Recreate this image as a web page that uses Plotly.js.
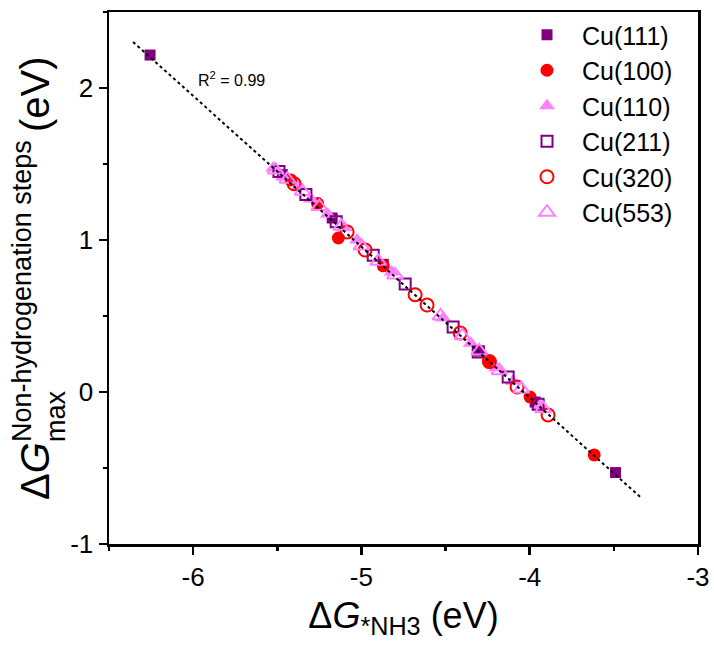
<!DOCTYPE html>
<html>
<head>
<meta charset="utf-8">
<script src="https://cdn.plot.ly/plotly-3.0.1.min.js"></script>
<style>html,body{margin:0;padding:0;background:#fff;}#chart{width:714px;height:648px;}</style>
</head>
<body>
<div id="chart"></div>
<script>
// ---- data ----
const seriesNames = ["Cu(111)", "Cu(100)", "Cu(110)", "Cu(211)", "Cu(320)", "Cu(553)"];

const cu111X = [-6.256, -5.47, -5.174, -4.87, -4.30, -3.968, -3.49];
const cu111Y = [2.217, 1.43, 1.145, 0.84, 0.27, -0.066, -0.53];

const cu100X = [-5.42, -5.26, -5.137, -4.87, -4.235, -3.998, -3.617];
const cu100Y = [1.395, 1.24, 1.013, 0.83, 0.197, -0.033, -0.414];

const cu110X = [-5.524, -5.465, -5.376, -5.30, -5.20, -5.10, -5.026, -4.82, -4.515, -4.35, -4.20, -4.10, -3.94];
const cu110Y = [1.474, 1.414, 1.35, 1.27, 1.17, 1.08, 1.0, 0.79, 0.487, 0.32, 0.16, 0.07, -0.09];

const cu211X = [-5.49, -5.33, -5.15, -4.93, -4.74, -4.455, -4.306, -4.128, -3.95];
const cu211Y = [1.45, 1.30, 1.12, 0.90, 0.71, 0.428, 0.263, 0.099, -0.08];

const cu320X = [-5.40, -5.085, -4.978, -4.681, -4.61, -4.413, -4.24, -4.075, -3.891];
const cu320Y = [1.37, 1.053, 0.934, 0.64, 0.572, 0.388, 0.20, 0.033, -0.151];

const cu553X = [-5.51, -5.44, -5.35, -5.25, -5.12, -5.00, -4.90, -4.80, -4.53, -4.40, -4.30, -4.18, -4.05, -3.92];
const cu553Y = [1.46, 1.40, 1.32, 1.22, 1.09, 0.96, 0.86, 0.77, 0.50, 0.37, 0.27, 0.14, 0.02, -0.11];

// linear fit
const fitSlope = -0.993;
const fitIntercept = -4.01;
const fitXRange = [-6.357, -3.344];
const r2Text = "R<sup>2</sup> = 0.99";
const r2Pos = [-5.77, 2.06];

const xTickVals = [-6, -5, -4, -3];
const xTickText = ["-6", "-5", "-4", "-3"];
const yTickVals = [-1, 0, 1, 2];
const yTickText = ["-1", "0", "1", "2"];

// ---- styles ----
const PURPLE = "#800080", RED = "#FF0000", PINK = "#FF80FF";
const FONT = "Liberation Sans, Arial, sans-serif";

function sc(name, x, y, symbol, color, size, open) {
  const m = {symbol: symbol, size: size, color: color};
  if (open) m.line = {color: color, width: 2};
  else m.line = {width: 0};
  return {type: "scatter", mode: "markers", name: name, x: x, y: y, marker: m, cliponaxis: false};
}

const traces = [
  sc(seriesNames[0], cu111X, cu111Y, "square", PURPLE, 11, false),
  sc(seriesNames[1], cu100X, cu100Y, "circle", RED, 13, false),
  sc(seriesNames[2], cu110X, cu110Y, "triangle-up", PINK, 14, false),
  sc(seriesNames[3], cu211X, cu211Y, "square-open", PURPLE, 11, true),
  sc(seriesNames[4], cu320X, cu320Y, "circle-open", RED, 13, true),
  sc(seriesNames[5], cu553X, cu553Y, "triangle-up-open", PINK, 14, true),
  {
    type: "scatter", mode: "lines", showlegend: false, hoverinfo: "skip",
    x: fitXRange, y: fitXRange.map(v => fitSlope * v + fitIntercept),
    line: {color: "#000", width: 2, dash: "3px,3px"}
  }
];

// plot area pixel geometry
const L = 109, R = 16, T = 12, B = 104, W = 714, H = 648;
const ph = H - T - B;
const py = p => (H - B - p) / ph;   // pixel y -> paper y
const pw = W - L - R;
const px = p => (p - L) / pw;       // pixel x -> paper x

const yTitleFont = 40, ySubFont = 27;
const annotations = [
  {text: r2Text, x: r2Pos[0], y: r2Pos[1], xref: "x", yref: "y", showarrow: false,
   font: {family: FONT, size: 16, color: "#000"}},
  {text: "Δ<i>G</i>", xref: "paper", yref: "paper", x: px(35), y: py(502), xanchor: "center", yanchor: "bottom",
   textangle: -90, showarrow: false, font: {family: FONT, size: yTitleFont, color: "#000"}},
  {text: "max", xref: "paper", yref: "paper", x: px(56), y: py(444), xanchor: "center", yanchor: "bottom",
   textangle: -90, showarrow: false, font: {family: FONT, size: ySubFont, color: "#000"}},
  {text: "Non-hydrogenation steps", xref: "paper", yref: "paper", x: px(22), y: py(444), xanchor: "center", yanchor: "bottom",
   textangle: -90, showarrow: false, font: {family: FONT, size: ySubFont, color: "#000"}},
  {text: "(eV)", xref: "paper", yref: "paper", x: px(35), y: py(134), xanchor: "center", yanchor: "bottom",
   textangle: -90, showarrow: false, font: {family: FONT, size: yTitleFont, color: "#000"}}
];

const axisCommon = {
  showline: true, linewidth: 2.5, linecolor: "#000", mirror: true,
  showgrid: false, zeroline: false,
  ticks: "outside", ticklen: 8, tickwidth: 2.5, tickcolor: "#000",
  tickmode: "array",
  tickfont: {family: FONT, size: 26, color: "#000"},
  minor: {tickmode: "linear", dtick: 0.5, ticks: "outside", ticklen: 4, tickwidth: 2.5, tickcolor: "#000", showgrid: false}
};

const layout = {
  width: W, height: H,
  margin: {l: L, r: R, t: T, b: B, pad: 0},
  paper_bgcolor: "#fff", plot_bgcolor: "#fff",
  font: {family: FONT, color: "#000"},
  showlegend: true,
  legend: {
    x: px(512), y: py(12), xanchor: "left", yanchor: "top",
    font: {family: FONT, size: 25, color: "#000"},
    bgcolor: "rgba(0,0,0,0)", borderwidth: 0, itemwidth: 60
  },
  xaxis: Object.assign({}, axisCommon, {
    range: [-6.5, -3], tickvals: xTickVals, ticktext: xTickText,
    minor: Object.assign({}, axisCommon.minor, {tick0: -6}),
    title: {text: "Δ<i>G</i><sub>*NH3</sub> (eV)", font: {family: FONT, size: 36, color: "#000"}, standoff: 12}
  }),
  yaxis: Object.assign({}, axisCommon, {
    range: [-1, 2.5], tickvals: yTickVals, ticktext: yTickText,
    minor: Object.assign({}, axisCommon.minor, {tick0: 0})
  }),
  annotations: annotations
};

Plotly.newPlot("chart", traces, layout, {displayModeBar: false, staticPlot: true});
</script>
</body>
</html>
